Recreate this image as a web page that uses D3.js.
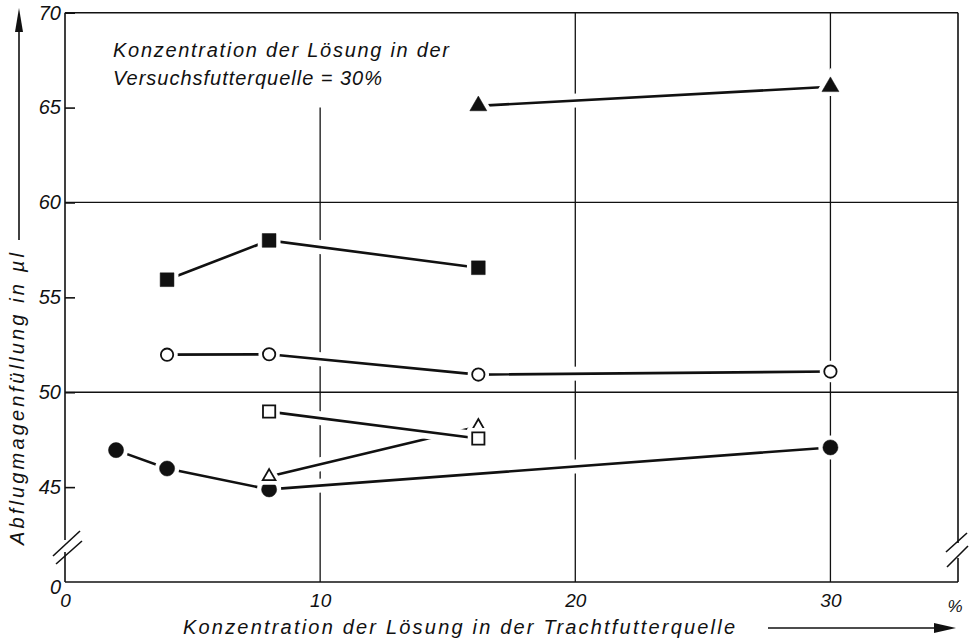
<!DOCTYPE html>
<html>
<head>
<meta charset="utf-8">
<script src="https://cdn.jsdelivr.net/npm/d3@7"></script>
<style>
  body { margin: 0; background: #fff; }
  text { font-family: "Liberation Sans", Arial, sans-serif; font-style: italic; fill: #111; }
</style>
</head>
<body>
<svg id="chart" width="970" height="642"></svg>
<script>
// values: [concentration %, volume µl]
const filledCircles   = [[2, 46.95], [4, 45.98], [8, 44.88], [30, 47.09]];
const openTriangles   = [[8, 45.56], [16.2, 48.2]];
const openSquares     = [[8, 48.98], [16.2, 47.56]];
const openCircles     = [[4, 51.98], [8, 52.0], [16.2, 50.93], [30, 51.09]];
const filledSquares   = [[4, 55.93], [8, 58.0], [16.2, 56.56]];
const filledTriangles = [[16.2, 65.09], [30, 66.1]];

const xTickValues = [0, 10, 20, 30];
const yTickValues = [45, 50, 55, 60, 65, 70];
const yGridValues = [50, 60];
const xGridValues = [20, 30];

const annotation = ['Konzentration der Lösung in der', 'Versuchsfutterquelle = 30%'];
const xTitle = 'Konzentration der Lösung in der Trachtfutterquelle';
const yTitle = 'Abflugmagenfüllung in µl';

const svg = d3.select('#chart');
const pLeft = 65, pRight = 958, pTop = 12.7, pBottom = 582;

const x = d3.scaleLinear().domain([0, 35]).range([pLeft, pRight]);
const y = d3.scaleLinear().domain([40, 70]).range([pBottom, pTop]);

const ink = '#111';

// grid
const grid = svg.append('g').attr('stroke', ink).attr('stroke-width', 1.3);
grid.selectAll('.hg').data(yGridValues).join('line')
  .attr('x1', pLeft).attr('x2', pRight)
  .attr('y1', d => y(d)).attr('y2', d => y(d));
grid.selectAll('.vg').data(xGridValues).join('line')
  .attr('x1', d => x(d)).attr('x2', d => x(d))
  .attr('y1', pTop).attr('y2', pBottom);
// the 10 % line only starts at the 65 level (text above it)
grid.append('line')
  .attr('x1', x(10)).attr('x2', x(10))
  .attr('y1', y(65)).attr('y2', pBottom);

// frame
const frame = svg.append('g').attr('stroke', ink).attr('stroke-width', 1.6).attr('fill', 'none');
frame.append('line').attr('x1', pLeft).attr('x2', pRight).attr('y1', pTop).attr('y2', pTop);
frame.append('line').attr('x1', pLeft).attr('x2', pRight).attr('y1', pBottom).attr('y2', pBottom);
frame.append('path').attr('d', `M${pLeft},${pTop}V540M${pLeft},552V${pBottom}`);
frame.append('path').attr('d', `M${pRight},${pTop}V543M${pRight},558V${pBottom}`);

// axis breaks
const breaks = svg.append('g').attr('stroke', ink).attr('stroke-width', 1.6);
[[53, 556, 80, 531], [56, 564, 82, 541], [946, 552, 967, 533], [947, 567, 968, 546]]
  .forEach(b => breaks.append('line').attr('x1', b[0]).attr('y1', b[1]).attr('x2', b[2]).attr('y2', b[3]));

// y axis: inward ticks + labels
const yAxis = svg.append('g')
  .attr('transform', `translate(${pLeft},0)`)
  .call(d3.axisLeft(y).tickValues(yTickValues).tickSize(-10).tickPadding(4));
yAxis.select('.domain').remove();
yAxis.selectAll('line').attr('stroke', ink).attr('stroke-width', 1.6);
yAxis.selectAll('text').attr('font-size', 20).attr('font-family', null).attr('fill', ink);

svg.append('text').attr('x', 61).attr('y', 594).attr('text-anchor', 'end')
  .attr('font-size', 20).text('0');

// x axis labels
const xAxis = svg.append('g')
  .attr('transform', `translate(0,${pBottom})`)
  .call(d3.axisBottom(x).tickValues(xTickValues).tickSize(0).tickPadding(12));
xAxis.select('.domain').remove();
xAxis.selectAll('text').attr('font-size', 19).attr('font-family', null).attr('fill', ink);

svg.append('text').attr('x', 955).attr('y', 612).attr('text-anchor', 'middle')
  .attr('font-size', 17).text('%');

// axis titles + arrows
svg.append('text').attr('x', 183).attr('y', 634)
  .attr('font-size', 20).attr('textLength', 552).attr('lengthAdjust', 'spacing')
  .text(xTitle);
svg.append('line').attr('x1', 768).attr('x2', 940).attr('y1', 628).attr('y2', 628)
  .attr('stroke', ink).attr('stroke-width', 1.6);
svg.append('path').attr('d', 'M956,628L934,623L934,633Z').attr('fill', ink);

svg.append('text')
  .attr('transform', 'translate(24,545) rotate(-90)')
  .attr('font-size', 20).attr('textLength', 292).attr('lengthAdjust', 'spacing')
  .text(yTitle);
svg.append('line').attr('x1', 19).attr('x2', 19).attr('y1', 240).attr('y2', 26)
  .attr('stroke', ink).attr('stroke-width', 1.6);
svg.append('path').attr('d', 'M19,8L15,32L23,32Z').attr('fill', ink);

// annotation
svg.append('text').attr('x', 113).attr('y', 57).attr('font-size', 20)
  .attr('textLength', 336).attr('lengthAdjust', 'spacing').text(annotation[0]);
svg.append('text').attr('x', 113).attr('y', 85).attr('font-size', 20)
  .attr('textLength', 269).attr('lengthAdjust', 'spacing').text(annotation[1]);

// series: drawn in this order so later halos cut earlier strokes like in the original
const series = [
  { data: filledCircles,   shape: d3.symbolCircle,   size: 180, fill: ink },
  { data: openTriangles,   shape: d3.symbolTriangle, size: 70,  fill: '#fff' },
  { data: openSquares,     shape: d3.symbolSquare,   size: 150, fill: '#fff' },
  { data: openCircles,     shape: d3.symbolCircle,   size: 120, fill: '#fff' },
  { data: filledSquares,   shape: d3.symbolSquare,   size: 190, fill: ink },
  { data: filledTriangles, shape: d3.symbolTriangle, size: 125, fill: ink }
];

const line = d3.line().x(d => x(d[0])).y(d => y(d[1]));

series.forEach(s => {
  const g = svg.append('g');
  g.append('path').attr('d', line(s.data)).attr('fill', 'none')
    .attr('stroke', '#fff').attr('stroke-width', 14);
  g.append('path').attr('d', line(s.data)).attr('fill', 'none')
    .attr('stroke', ink).attr('stroke-width', 2.6);
  const sym = d3.symbol().type(s.shape).size(s.size);
  g.selectAll('.halo').data(s.data).join('path')
    .attr('transform', d => `translate(${x(d[0])},${y(d[1])})`)
    .attr('d', sym).attr('fill', '#fff').attr('stroke', '#fff').attr('stroke-width', 9);
  g.selectAll('.mark').data(s.data).join('path')
    .attr('transform', d => `translate(${x(d[0])},${y(d[1])})`)
    .attr('d', sym).attr('fill', s.fill)
    .attr('stroke', ink).attr('stroke-width', s.fill === ink ? 0.5 : 1.8);
});
</script>
</body>
</html>
